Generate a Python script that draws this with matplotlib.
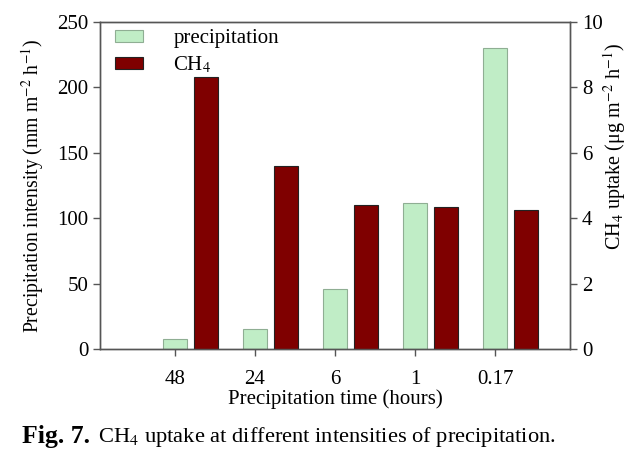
import numpy as np
import matplotlib
matplotlib.use("Agg")
import matplotlib.pyplot as plt

plt.rcParams['font.family'] = ['Liberation Serif', 'DejaVu Serif']
plt.rcParams['mathtext.fontset'] = 'stix'

hours = ['48', '24', '6', '1', '0.17']
precip = [7.5, 15.3, 45.6, 111.8, 230]
ch4 = [8.31, 5.6, 4.4, 4.35, 4.24]

green = '#c0edc6'
darkred = '#7f0000'
axcol = '#555555'

fig = plt.figure(figsize=(6.43, 4.63), dpi=100)
ax = fig.add_axes([100 / 643, 1 - 349 / 463, 470 / 643, 327 / 463])
ax2 = ax.twinx()

x = np.arange(len(hours))
w = 0.30
ax.bar(x, precip, w, color=green, edgecolor='#8fae93', linewidth=0.8, label='precipitation')
ax2.bar(x + 0.39, ch4, w, color=darkred, edgecolor='#222222', linewidth=0.8, label='CH$_4$')

ax.set_xlim(-0.9375, 4.9375)
ax.set_ylim(0, 250)
ax2.set_ylim(0, 10)
ax.set_yticks([0, 50, 100, 150, 200, 250])
ax2.set_yticks([0, 2, 4, 6, 8, 10])
ax.set_xticks(x)
ax.set_xticklabels(hours)

for a in (ax, ax2):
    for s in a.spines.values():
        s.set_color(axcol)
        s.set_linewidth(1.0)
    a.tick_params(direction='out', length=5, color=axcol, labelsize=15, width=1.0)
ax.tick_params(axis='x', pad=10)

ax.set_xlabel('Precipitation time (hours)', fontsize=15, labelpad=0)
ax.set_ylabel('Precipitation intensity (mm m$^{-2}$ h$^{-1}$)', fontsize=14.2, labelpad=8)
ax2.set_ylabel('CH$_4$ uptake (μg m$^{-2}$ h$^{-1}$)', fontsize=14.5)
ax2.yaxis.set_label_coords(1.067, 0.62)

h1, l1 = ax.get_legend_handles_labels()
h2, l2 = ax2.get_legend_handles_labels()
ax2.legend(h1 + h2, l1 + l2, loc='upper left', frameon=False, fontsize=15,
           handlelength=1.35, handleheight=0.55, handletextpad=1.45,
           bbox_to_anchor=(-0.008, 1.035), labelspacing=0.3)

fig.text(22 / 643, 1 - 437 / 463, 'Fig. 7.', fontsize=18.5, fontweight='bold', va='center')
fig.text(98 / 643, 1 - 437 / 463, 'CH$_4$ uptake at different intensities of precipitation.',
         fontsize=16.2, va='center')

fig.savefig('out.png', dpi=100)
